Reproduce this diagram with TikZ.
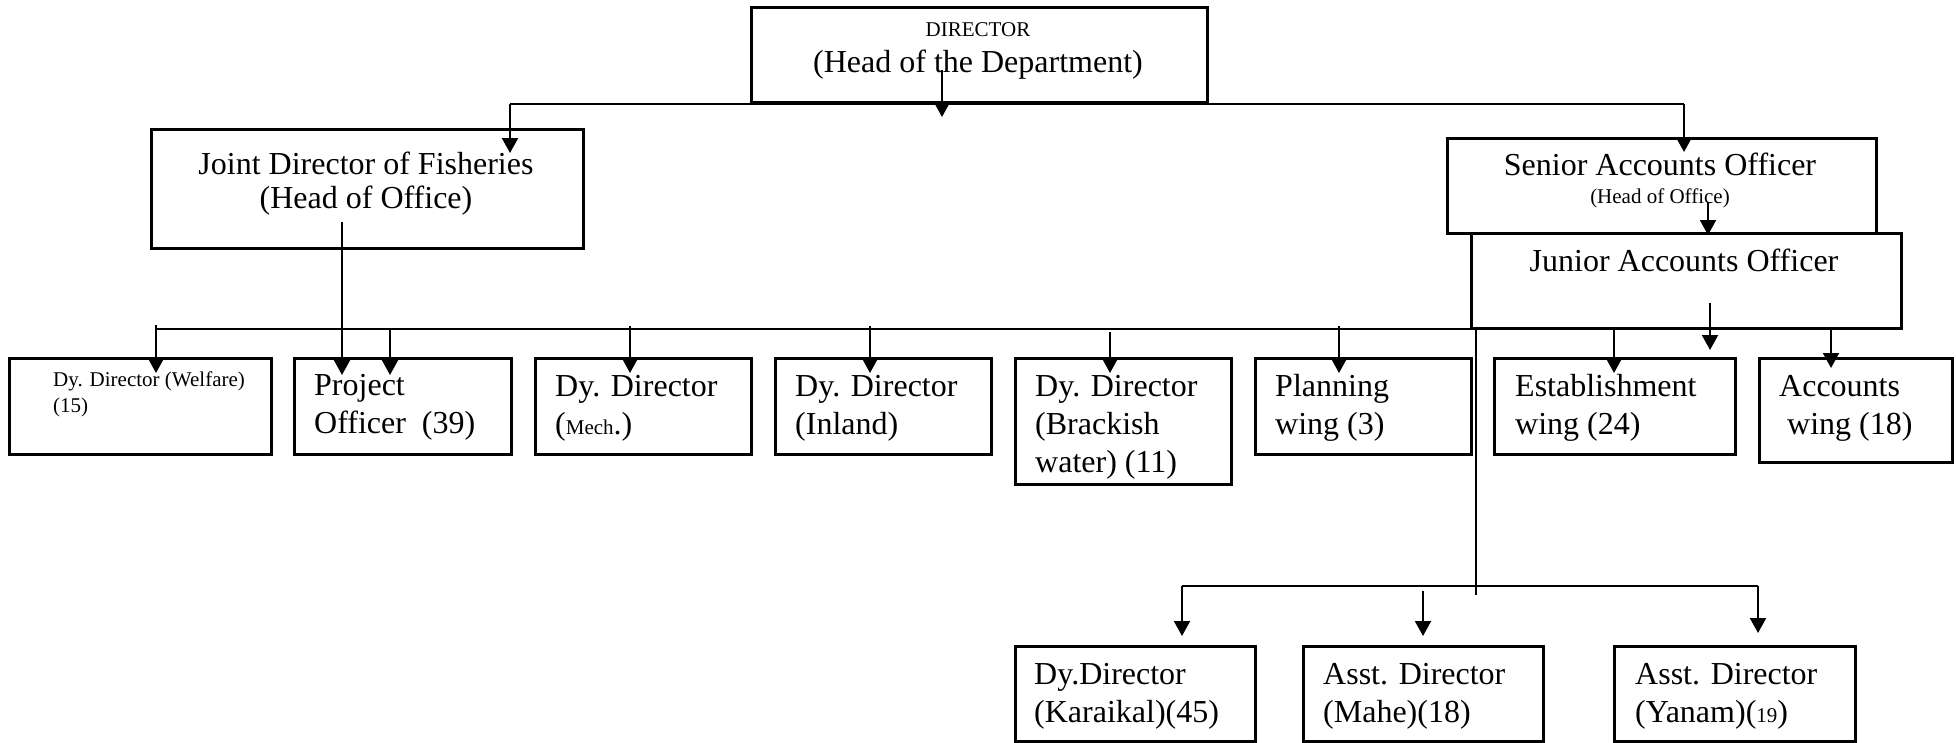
\documentclass[tikz,border=0pt]{standalone}
\usepackage{fontspec}
\setmainfont{Liberation Serif}
\usetikzlibrary{arrows.meta,calc}
\newcommand{\bigf}{\fontsize{32}{38}\selectfont}
\newcommand{\smf}{\fontsize{21}{26}\selectfont}
\newcommand{\ls}[1]{\smash{#1}}
\begin{document}
\begin{tikzpicture}[x=1pt,y=-1pt,
  box/.style={draw, line width=2.6pt, rectangle, inner sep=0pt, anchor=north west},
  lbl/.style={inner sep=0pt, anchor=base west, font=\bigf},
  clbl/.style={inner sep=0pt, anchor=base},
  conn/.style={line width=2pt, -{Triangle[length=15pt,width=16pt]}},
  wire/.style={line width=2pt}]
\useasboundingbox (0,0) rectangle (1956,742);

% boxes
\node[box, minimum width=456pt, minimum height=95pt] (dir) at (750,6) {};
\node[box, minimum width=432pt, minimum height=119pt] (jd) at (150,128) {};
\node[box, minimum width=429pt, minimum height=95pt] (sao) at (1446,137) {};
\node[box, minimum width=430pt, minimum height=95pt] (jao) at (1470,232) {};
\node[box, minimum width=262pt, minimum height=96pt] (welf) at (8,357) {};
\node[box, minimum width=217pt, minimum height=96pt] (proj) at (293,357) {};
\node[box, minimum width=216pt, minimum height=96pt] (mech) at (534,357) {};
\node[box, minimum width=216pt, minimum height=96pt] (inl) at (774,357) {};
\node[box, minimum width=216pt, minimum height=126pt] (brk) at (1014,357) {};
\node[box, minimum width=216pt, minimum height=96pt] (plan) at (1254,357) {};
\node[box, minimum width=241pt, minimum height=96pt] (est) at (1493,357) {};
\node[box, minimum width=193pt, minimum height=104pt] (acc) at (1758,357) {};
\node[box, minimum width=240pt, minimum height=95pt] (kar) at (1014,645) {};
\node[box, minimum width=240pt, minimum height=95pt] (mahe) at (1302,645) {};
\node[box, minimum width=241pt, minimum height=95pt] (yan) at (1613,645) {};

% texts
\node[clbl, font=\fontsize{32}{36}\selectfont] (tdir) at (978,36)
  {\begin{tabular}[t]{@{}c@{}}\ls{\smf DIRECTOR}\\\ls{(Head of the Department)}\end{tabular}};
\node[clbl, font=\fontsize{32}{34}\selectfont] (tjd) at (366,174)
  {\begin{tabular}[t]{@{}c@{}}\ls{Joint Director of Fisheries}\\\ls{(Head of Office)}\end{tabular}};
\node[clbl, font=\fontsize{32}{28}\selectfont] (tsao) at (1660,175)
  {\begin{tabular}[t]{@{}c@{}}\ls{Senior Accounts Officer}\\\ls{\smf (Head of Office)}\end{tabular}};
\node[clbl, font=\bigf] (tjao) at (1684,271) {Junior Accounts Officer};
\node[lbl, font=\smf] (twelf) at (53,386)
  {\begin{tabular}[t]{@{}l@{}}\ls{Dy. Director (Welfare)}\\\ls{(15)}\end{tabular}};
\node[lbl] (tproj) at (314,395)
  {\begin{tabular}[t]{@{}l@{}}\ls{Project}\\\ls{Officer\ \ (39)}\end{tabular}};
\node[lbl] (tmech) at (555,396)
  {\begin{tabular}[t]{@{}l@{}}\ls{Dy. Director}\\\ls{({\smf Mech}.)}\end{tabular}};
\node[lbl] (tinl) at (795,396)
  {\begin{tabular}[t]{@{}l@{}}\ls{Dy. Director}\\\ls{(Inland)}\end{tabular}};
\node[lbl] (tbrk) at (1035,396)
  {\begin{tabular}[t]{@{}l@{}}\ls{Dy. Director}\\\ls{(Brackish}\\\ls{water) (11)}\end{tabular}};
\node[lbl] (tplan) at (1275,396)
  {\begin{tabular}[t]{@{}l@{}}\ls{Planning}\\\ls{wing (3)}\end{tabular}};
\node[lbl] (test) at (1515,396)
  {\begin{tabular}[t]{@{}l@{}}\ls{Establishment}\\\ls{wing (24)}\end{tabular}};
\node[lbl] (tacc) at (1779,396)
  {\begin{tabular}[t]{@{}l@{}}\ls{Accounts}\\\ls{\ wing (18)}\end{tabular}};
\node[lbl] (tkar) at (1034,684)
  {\begin{tabular}[t]{@{}l@{}}\ls{Dy.Director}\\\ls{(Karaikal)(45)}\end{tabular}};
\node[lbl] (tmahe) at (1323,684)
  {\begin{tabular}[t]{@{}l@{}}\ls{Asst. Director}\\\ls{(Mahe)(18)}\end{tabular}};
\node[lbl] (tyan) at (1635,684)
  {\begin{tabular}[t]{@{}l@{}}\ls{Asst. Director}\\\ls{(Yanam)({\smf 19})}\end{tabular}};

% connector points
\coordinate (dirS) at (942,70);   \coordinate (dirE) at (942,117);
\coordinate (tbL) at (510,104);   \coordinate (tbR) at (1684,104);
\coordinate (jdT) at (510,153);   \coordinate (saoT) at (1684,152);
\coordinate (jdS) at (342,222);   \coordinate (projT1) at (342,375);
\coordinate (mbL) at (156,329);   \coordinate (mbR) at (1476,329);
\coordinate (welfS) at (156,325); \coordinate (welfT) at (156,373);
\coordinate (projS) at (390,329); \coordinate (projT) at (390,375);
\coordinate (mechS) at (630,326); \coordinate (mechT) at (630,373);
\coordinate (inlS) at (870,326);  \coordinate (inlT) at (870,373);
\coordinate (brkS) at (1110,332); \coordinate (brkT) at (1110,373);
\coordinate (planS) at (1339,326);\coordinate (planT) at (1339,373);
\coordinate (estS) at (1614,327); \coordinate (estT) at (1614,373);
\coordinate (accS) at (1831,327); \coordinate (accT) at (1831,368);
\coordinate (jaoS) at (1710,303); \coordinate (jaoT) at (1710,350);
\coordinate (saoS) at (1708,202); \coordinate (jaoT0) at (1708,235);
\coordinate (vB) at (1476,595);
\coordinate (bbL) at (1182,586);  \coordinate (bbR) at (1758,586);
\coordinate (karT) at (1182,636);
\coordinate (mahS) at (1423,591); \coordinate (mahT) at (1423,636);
\coordinate (yanT) at (1758,633);

% connectors
\draw[conn] (dirS) -- (dirE);
\draw[wire] (tbL) -- (tbR);
\draw[conn] (tbL) -- (jdT);
\draw[conn] (tbR) -- (saoT);
\draw[conn] (jdS) -- (projT1);
\draw[wire] (mbL) -- (mbR) -- (vB);
\draw[conn] (welfS) -- (welfT);
\draw[conn] (projS) -- (projT);
\draw[conn] (mechS) -- (mechT);
\draw[conn] (inlS) -- (inlT);
\draw[conn] (brkS) -- (brkT);
\draw[conn] (planS) -- (planT);
\draw[conn] (estS) -- (estT);
\draw[conn] (accS) -- (accT);
\draw[conn] (jaoS) -- (jaoT);
\draw[conn] (saoS) -- (jaoT0);
\draw[wire] (bbL) -- (bbR);
\draw[conn] (bbL) -- (karT);
\draw[conn] (mahS) -- (mahT);
\draw[conn] (bbR) -- (yanT);
\end{tikzpicture}
\end{document}
